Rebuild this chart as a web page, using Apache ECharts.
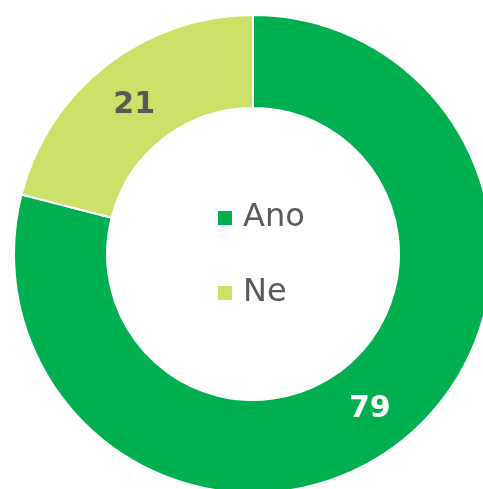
<!DOCTYPE html>
<html>
<head>
<meta charset="utf-8">
<script src="https://cdn.jsdelivr.net/npm/echarts@6/dist/echarts.min.js"></script>
<style>
  html, body { margin: 0; padding: 0; background: #fff; }
  #chart { width: 483px; height: 489px; }
</style>
</head>
<body>
<div id="chart"></div>
<script>
// data
var categories = ['Ano', 'Ne'];
var values = [79, 21];
var colors = ['#00B050', '#CBE168'];
var labelColors = ['#FFFFFF', '#595959'];
var labelShift = [[-3, 1], [1, 6]];

var myChart = echarts.init(document.getElementById('chart'));

var seriesData = categories.map(function (name, i) {
    return {
        name: name,
        value: values[i],
        itemStyle: {color: colors[i]},
        label: {color: labelColors[i], offset: labelShift[i]}
    };
});

var option = {
    animation: false,
    backgroundColor: '#fff',
    legend: {
        orient: 'vertical',
        left: 218,
        top: 202,
        padding: 0,
        itemWidth: 14,
        itemHeight: 14,
        itemGap: 43,
        icon: 'rect',
        selectedMode: false,
        itemStyle: {borderWidth: 0},
        textStyle: {
            fontFamily: 'DejaVu Sans',
            fontSize: 32,
            color: '#595959',
            padding: [0, 0, 0, 6]
        },
        data: categories
    },
    series: [
        {
            type: 'pie',
            center: [253, 254],
            radius: [146, 239],
            startAngle: 90,
            clockwise: true,
            avoidLabelOverlap: false,
            itemStyle: {borderColor: '#fff', borderWidth: 2},
            label: {
                show: true,
                position: 'inside',
                formatter: '{c}',
                fontFamily: 'DejaVu Sans',
                fontWeight: 'bold',
                fontSize: 30
            },
            labelLine: {show: false},
            emphasis: {disabled: true},
            data: seriesData
        }
    ]
};
myChart.setOption(option);
</script>
</body>
</html>
